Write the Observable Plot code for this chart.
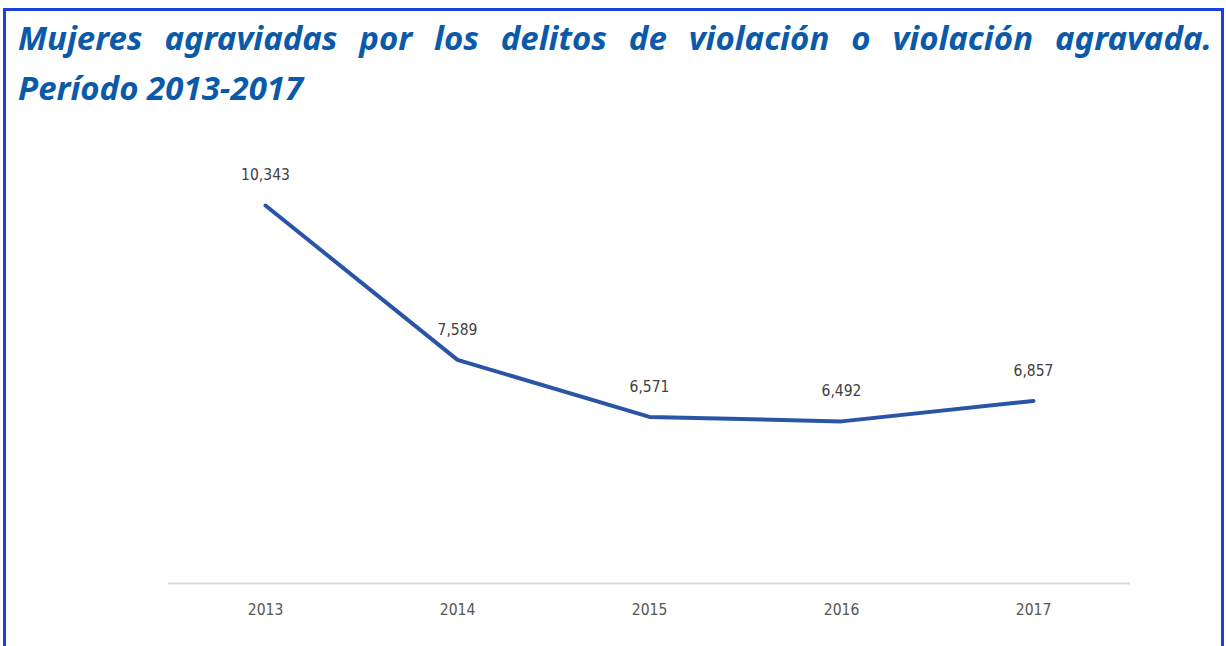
<!DOCTYPE html>
<html>
<head>
<meta charset="utf-8">
<script src="https://cdn.jsdelivr.net/npm/d3@7"></script>
<script src="https://cdn.jsdelivr.net/npm/@observablehq/plot@0.6"></script>
<style>
  html, body { margin: 0; padding: 0; background: #fff; width: 1226px; height: 646px; overflow: hidden; }
  #frame { position: absolute; left: 3px; top: 8px; width: 1215px; height: 700px;
           border: 3px solid #1a40d8; border-bottom: none; }
  #title { position: absolute; left: 18px; top: 13px; width: 1194px;
           font-family: "Noto Sans", "DejaVu Sans", sans-serif; font-weight: bold; font-style: italic;
           color: #0b5aaa; font-size: 33px; line-height: 50px; }
  #title .l1 { text-align: justify; text-align-last: justify; white-space: nowrap; }
  #title .l2 { text-align: left; }
  #chart { position: absolute; left: 0; top: 0; }
</style>
</head>
<body>
<div id="frame"></div>
<div id="chart"></div>
<div id="title">
  <div class="l1">Mujeres agraviadas por los delitos de violación o violación agravada.</div>
  <div class="l2">Período 2013-2017</div>
</div>
<script>
const years = ["2013", "2014", "2015", "2016", "2017"];
const values = [10343, 7589, 6571, 6492, 6857];
const labels = ["10,343", "7,589", "6,571", "6,492", "6,857"];
const yMin = 3600;

const data = years.map((y, i) => ({year: y, value: values[i], label: labels[i]}));

const plot = Plot.plot({
  width: 1226,
  height: 646,
  marginLeft: 168,
  marginRight: 96,
  marginBottom: 63,
  x: {type: "band", domain: years, range: [168, 1130], padding: 0, label: null},
  y: {domain: [yMin, d3.max(values)], range: [583, 205], axis: null},
  style: {fontFamily: "'DejaVu Sans Condensed', 'Liberation Sans Narrow', sans-serif", background: "transparent"},
  marks: [
    Plot.ruleY([yMin], {stroke: "#d9d9d9", strokeWidth: 2}),
    Plot.axisX({tickSize: 0, tickPadding: 20, fontSize: 15.5, fill: "#555", label: null}),
    Plot.line(data, {x: "year", y: "value", stroke: "#2a55a6", strokeWidth: 4, strokeLinejoin: "round", strokeLinecap: "round"}),
    Plot.text(data, {x: "year", y: "value", text: "label", dy: -30, fontSize: 15.5, fill: "#404040"})
  ]
});
document.getElementById("chart").appendChild(plot);
</script>
</body>
</html>
